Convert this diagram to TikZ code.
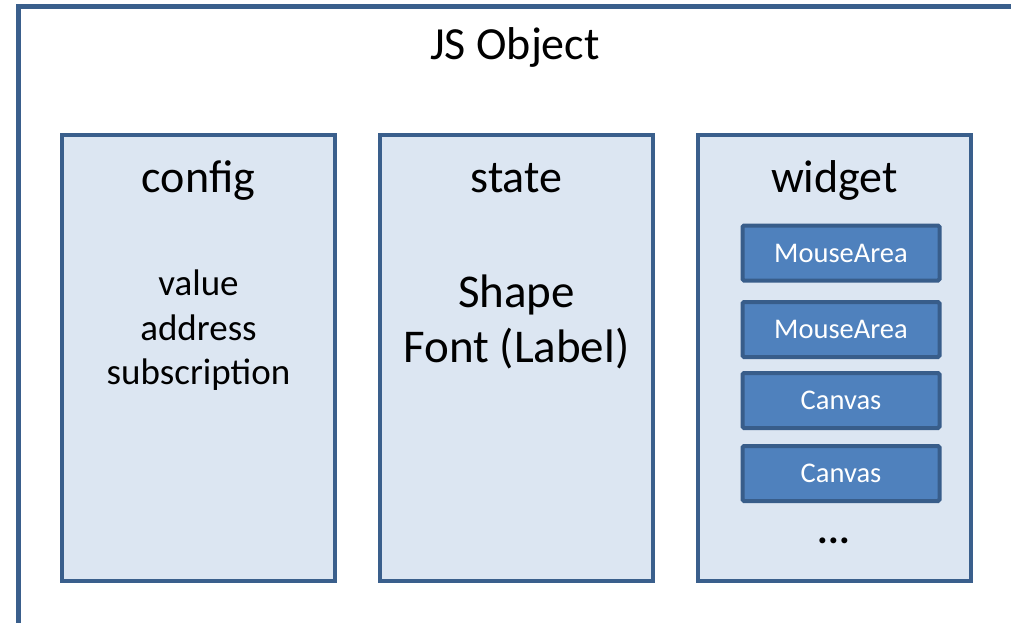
\documentclass[tikz,border=0pt]{standalone}
\usepackage{fontspec}
\setmainfont{Carlito}
\definecolor{frameblue}{HTML}{3A5F8C}
\definecolor{panelfill}{HTML}{DCE6F2}
\definecolor{boxfill}{HTML}{4F81BD}
\definecolor{boxline}{HTML}{385D8A}
\tikzset{
  panel/.style={draw=frameblue, line width=4.6pt, fill=panelfill},
  title/.style={anchor=base, font=\fontsize{46}{55}\selectfont, inner sep=0pt},
  itemtext/.style={anchor=base, font=\fontsize{37}{45}\selectfont, inner sep=0pt},
  bigtext/.style={anchor=base, font=\fontsize{47}{56}\selectfont, inner sep=0pt},
  widgetbox/.style={draw=boxline, line width=4pt, fill=boxfill, rounded corners=1.5pt,
    minimum width=197pt, minimum height=55pt, inner sep=0pt, text=white,
    font=\fontsize{28.5}{34}\selectfont},
}
\begin{document}
\begin{tikzpicture}[x=1pt,y=-1pt]
\useasboundingbox (0,0) rectangle (1011,623);
\clip (0,0) rectangle (1011,623);
% outer frame (cut by the page)
\draw[draw=frameblue, line width=5pt] (18,660) -- (18,7) -- (1060,7);
\node[title] (jstitle) at (515,60) {JS Object};
% panels
\draw[panel] (62,135) rectangle (335,581);
\draw[panel] (380,135) rectangle (653,581);
\draw[panel] (698,135) rectangle (971,581);
\node[title] (config) at (198.5,192) {config};
\node[title] (state) at (516.5,192) {state};
\node[title] (widget) at (834.5,192) {widget};
% config contents
\node[itemtext] (value) at (198.5,295) {value};
\node[itemtext] (address) at (198.5,340) {address};
\node[itemtext] (subscr) at (198.5,384) {subscription};
% state contents
\node[bigtext] (shape) at (516.5,307) {Shape};
\node[bigtext] (font) at (516.5,362) {Font (Label)};
% widget contents
\node[widgetbox] (ma1) at (841,253) {MouseArea};
\node[widgetbox] (ma2) at (841,329.5) {MouseArea};
\node[widgetbox] (cv1) at (841,400.5) {Canvas};
\node[widgetbox] (cv2) at (841,473.5) {Canvas};
\node[itemtext, font=\fontsize{40}{45}\bfseries] (dots) at (834,543) {...};
\end{tikzpicture}
\end{document}
